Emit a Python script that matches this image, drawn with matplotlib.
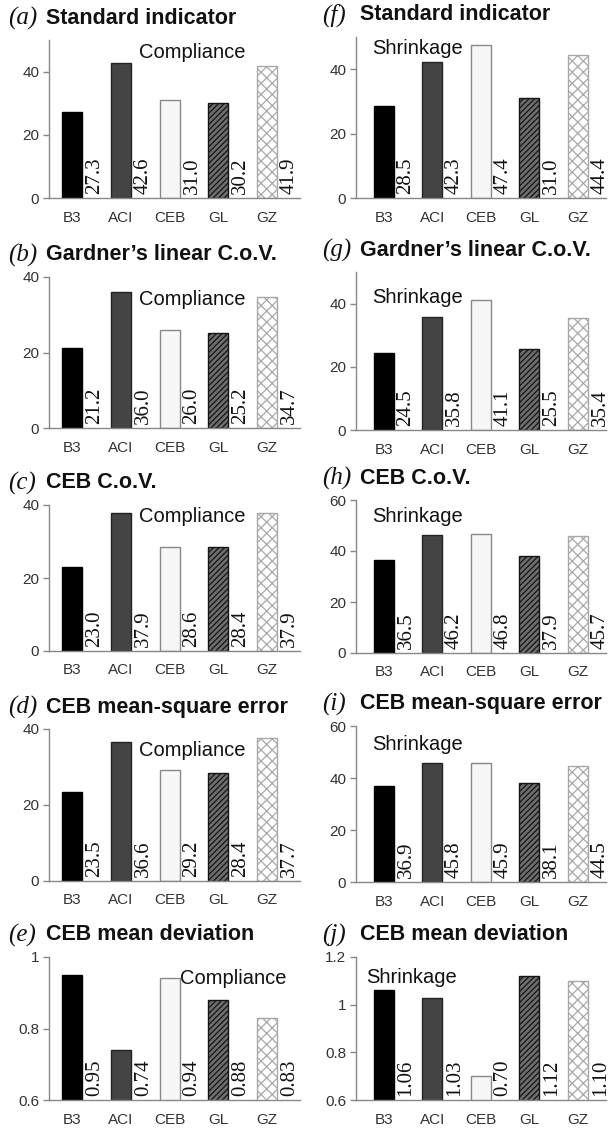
import matplotlib
matplotlib.use("Agg")
import matplotlib.pyplot as plt
from matplotlib.ticker import FuncFormatter

W, H = 608, 1132

cats = ["B3", "ACI", "CEB", "GL", "GZ"]

a_vals = [27.3, 42.6, 31.0, 30.2, 41.9]
b_vals = [21.2, 36.0, 26.0, 25.2, 34.7]
c_vals = [23.0, 37.9, 28.6, 28.4, 37.9]
d_vals = [23.5, 36.6, 29.2, 28.4, 37.7]
e_vals = [0.95, 0.74, 0.94, 0.88, 0.83]
f_vals = [28.5, 42.3, 47.4, 31.0, 44.4]
g_vals = [24.5, 35.8, 41.1, 25.5, 35.4]
h_vals = [36.5, 46.2, 46.8, 37.9, 45.7]
i_vals = [36.9, 45.8, 45.9, 38.1, 44.5]
j_vals = [1.06, 1.03, 0.70, 1.12, 1.10]

titles = ["Standard indicator", "Gardner\u2019s linear C.o.V.", "CEB C.o.V.",
          "CEB mean-square error", "CEB mean deviation"]

# bar styles: face, edge, hatch
styles = [("#000000", "#000000", None),
          ("#444444", "#222222", None),
          ("#f7f7f7", "#888888", None),
          ("#6e6e6e", "#141414", "//////"),
          ("#ffffff", "#a8a8a8", "xxx")]

plt.rcParams["hatch.linewidth"] = 0.9

fig = plt.figure(figsize=(W / 100, H / 100), dpi=100)


def rect(l, t, r, b):
    return [l / W, 1 - b / H, (r - l) / W, (b - t) / H]


def panel(box, vals, ylim, yticks, fmt, letter, title, note, note_xy, xlim, col_x):
    ax = fig.add_axes(rect(*box))
    x = range(len(cats))
    for k in x:
        fc, ec, hatch = styles[k]
        ax.bar(k, vals[k], width=0.41, color=fc, edgecolor=ec, hatch=hatch, linewidth=1.0)
        ax.annotate(fmt % vals[k], (k + 0.46, ylim[0]), xytext=(0, 3),
                    textcoords="offset points", rotation=90, ha="center", va="bottom",
                    family="Liberation Serif", fontsize=15, color="#111111",
                    annotation_clip=False)
    ax.set_xlim(*xlim)
    ax.set_ylim(*ylim)
    ax.set_xticks(list(x))
    ax.set_xticklabels(cats)
    ax.set_yticks(yticks)
    ax.yaxis.set_major_formatter(FuncFormatter(lambda v, p: "%g" % v))
    for s in ["top", "right"]:
        ax.spines[s].set_visible(False)
    for s in ["left", "bottom"]:
        ax.spines[s].set_color("#888888")
        ax.spines[s].set_linewidth(1.0)
    ax.tick_params(axis="x", length=0, pad=9, labelsize=11, labelcolor="#333333")
    ax.tick_params(axis="y", length=4, width=1, color="#888888", pad=3,
                   labelsize=11, labelcolor="#333333")
    for lab in ax.get_xticklabels() + ax.get_yticklabels():
        lab.set_family("Liberation Sans")
    ax.text(note_xy[0], note_xy[1], note, transform=ax.transAxes, ha="left", va="center",
            family="Liberation Sans", fontsize=14.5, color="#111111")
    ty = box[1] - 22
    fig.text((col_x) / W, 1 - ty / H, "(" + letter + ")", ha="left", va="center",
             family="Liberation Serif", style="italic", fontsize=18, color="#111111")
    fig.text((col_x + 38) / W, 1 - ty / H, title, ha="left", va="center",
             family="Liberation Sans", weight="bold", fontsize=15.5, color="#111111")
    return ax


left_boxes = [(49, 40, 300, 198), (49, 277, 300, 428), (49, 505, 300, 651),
              (49, 729, 300, 881), (49, 957, 300, 1100)]
right_boxes = [(356, 37, 606, 198), (356, 272, 606, 430), (356, 500, 606, 653),
               (356, 726, 606, 882), (356, 957, 606, 1100)]

left_vals = [a_vals, b_vals, c_vals, d_vals, e_vals]
right_vals = [f_vals, g_vals, h_vals, i_vals, j_vals]
left_lims = [(0, 50), (0, 40), (0, 40), (0, 40), (0.6, 1.0)]
right_lims = [(0, 50), (0, 50), (0, 60), (0, 60), (0.6, 1.2)]
left_ticks = [[0, 20, 40], [0, 20, 40], [0, 20, 40], [0, 20, 40], [0.6, 0.8, 1.0]]
right_ticks = [[0, 20, 40], [0, 20, 40], [0, 20, 40, 60], [0, 20, 40, 60],
               [0.6, 0.8, 1.0, 1.2]]
left_notes = [(0.36, 0.92), (0.36, 0.85), (0.36, 0.92), (0.36, 0.86), (0.52, 0.85)]
right_notes = [(0.064, 0.93), (0.064, 0.84), (0.064, 0.89), (0.064, 0.88), (0.04, 0.86)]

for n in range(5):
    fmt = "%.2f" if n == 4 else "%.1f"
    panel(left_boxes[n], left_vals[n], left_lims[n], left_ticks[n], fmt, "abcde"[n],
          titles[n], "Compliance", left_notes[n], (-0.48, 4.68), 8)
    panel(right_boxes[n], right_vals[n], right_lims[n], right_ticks[n], fmt, "fghij"[n],
          titles[n], "Shrinkage", right_notes[n], (-0.57, 4.58), 322)

fig.savefig("out.png", dpi=100)
